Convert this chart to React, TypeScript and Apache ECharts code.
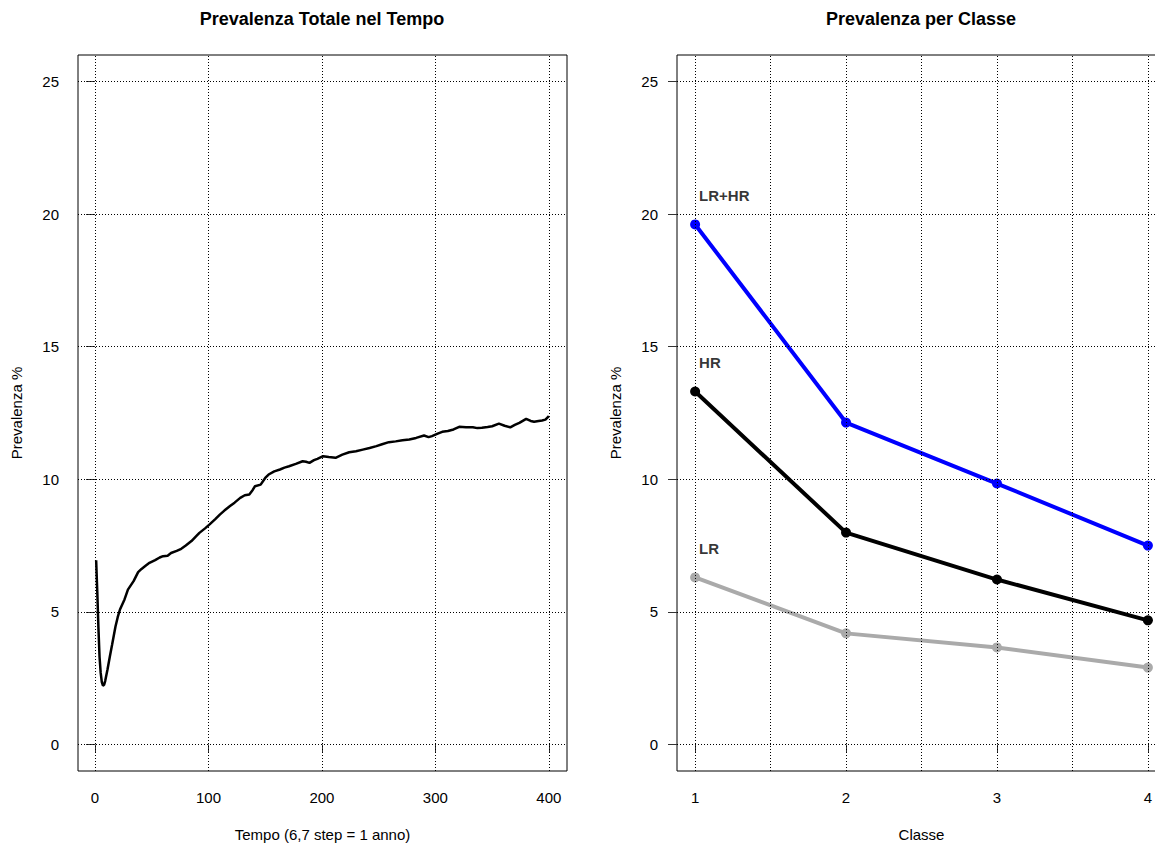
import React, { useEffect, useRef } from "react";
import * as echarts from "echarts";

const FONT = "'Liberation Sans', Arial, sans-serif";

// Left panel: total prevalence over time
const timeSteps = [1, 2, 3, 4, 5, 6, 7, 8, 9, 11, 13, 15, 18, 20, 22, 26, 29, 34, 38, 41, 44, 48, 53, 57, 60, 64, 67, 72, 76, 80, 85, 89, 92, 97, 101, 106, 110, 114, 119, 123, 128, 132, 136, 139, 141, 146, 150, 153, 158, 163, 167, 171, 177, 183, 186, 189, 193, 196, 201, 206, 212, 218, 224, 230, 236, 242, 248, 253, 259, 265, 271, 277, 283, 290, 294, 297, 302, 306, 311, 316, 321, 327, 333, 337, 341, 346, 350, 356, 361, 366, 370, 374, 380, 384, 387, 391, 394, 397, 400];
const totalPrevalence = [6.95, 5.75, 4.4, 3.3, 2.7, 2.35, 2.22, 2.25, 2.4, 2.83, 3.3, 3.75, 4.44, 4.8, 5.09, 5.47, 5.84, 6.16, 6.5, 6.62, 6.72, 6.85, 6.95, 7.05, 7.1, 7.12, 7.22, 7.3, 7.38, 7.5, 7.67, 7.85, 7.98, 8.15, 8.3, 8.5, 8.67, 8.82, 8.99, 9.12, 9.3, 9.4, 9.43, 9.6, 9.74, 9.8, 10.05, 10.18, 10.3, 10.37, 10.44, 10.49, 10.58, 10.68, 10.66, 10.62, 10.72, 10.77, 10.87, 10.84, 10.81, 10.93, 11.02, 11.06, 11.12, 11.18, 11.25, 11.32, 11.4, 11.43, 11.47, 11.5, 11.56, 11.65, 11.59, 11.63, 11.72, 11.79, 11.82, 11.88, 11.98, 11.96, 11.96, 11.93, 11.94, 11.97, 12.0, 12.1, 12.02, 11.96, 12.05, 12.13, 12.28, 12.2, 12.17, 12.2, 12.22, 12.25, 12.38];

// Right panel: prevalence per class
const classes = [1, 2, 3, 4];
const lrhrValues = [19.61, 12.14, 9.84, 7.5];
const hrValues = [13.31, 7.99, 6.22, 4.68];
const lrValues = [6.3, 4.19, 3.66, 2.9];
const seriesNames = ["LR+HR", "HR", "LR"];
const seriesColors = ["#0000FF", "#000000", "#AAAAAA"];

// Axes ticks / grid
const yTicks = [0, 5, 10, 15, 20, 25];
const timeTicks = [0, 100, 200, 300, 400];
const classTicks = [1, 2, 3, 4];
const classGrid = [1, 1.5, 2, 2.5, 3, 3.5, 4];

export default function App() {
  const ref = useRef<HTMLDivElement>(null);
  useEffect(() => {
    if (!ref.current) return;
    const chart = echarts.init(ref.current, null, { renderer: "svg" });

    const gridLineStyle = { type: [1, 2] as any, color: "#000", width: 1 };
    const makeGridSeries = (xIdx: number, xs: number[]) => ({
      type: "line",
      xAxisIndex: xIdx,
      yAxisIndex: xIdx,
      data: [[xs[0], 0]],
      showSymbol: false,
      lineStyle: { width: 0 },
      silent: true,
      z: 1,
      markLine: {
        silent: true,
        symbol: "none",
        label: { show: false },
        lineStyle: gridLineStyle,
        emphasis: { disabled: true },
        data: [
          ...xs.map((v) => ({ xAxis: v })),
          ...yTicks.map((v) => ({ yAxis: v })),
        ],
      },
    });

    const textStyle = { fontFamily: FONT, fontSize: 15, color: "#000" };
    const xAxisCommon = {
      type: "value",
      axisLine: { show: false },
      axisTick: { show: true, length: 8, lineStyle: { color: "#333" } },
      splitLine: { show: false },
      nameLocation: "middle",
      nameTextStyle: textStyle,
    };
    const yAxisCommon = {
      type: "value",
      min: -1,
      max: 26,
      axisLine: { show: false },
      axisTick: { show: true, length: 9, customValues: yTicks, lineStyle: { color: "#333" } },
      axisLabel: { customValues: yTicks, margin: 19, ...textStyle },
      splitLine: { show: false },
      name: "Prevalenza %",
      nameLocation: "middle",
      nameGap: 54,
      nameTextStyle: textStyle,
    };

    const classSeries = [lrValues, hrValues, lrhrValues].map((vals, i) => {
      const idx = 2 - i;
      return {
        type: "line",
        name: seriesNames[idx],
        xAxisIndex: 1,
        yAxisIndex: 1,
        data: classes.map((c, k) => [c, vals[k]]),
        symbol: "circle",
        symbolSize: 10,
        showSymbol: true,
        lineStyle: { color: seriesColors[idx], width: 4 },
        itemStyle: { color: seriesColors[idx] },
        z: 3,
      };
    });
    const firstValues = [lrhrValues[0], hrValues[0], lrValues[0]];

    const gridCommon = {
      top: 55,
      width: 489,
      height: 716,
      show: true,
      borderColor: "#000",
      borderWidth: 1,
      backgroundColor: "transparent",
      containLabel: false,
      outerBoundsMode: "none",
    };

    chart.setOption({
      animation: false,
      backgroundColor: "#fff",
      grid: [
        { ...gridCommon, left: 78 },
        { ...gridCommon, left: 677 },
      ],
      graphic: [
        { type: "text", x: 322, y: 19, style: { text: "Prevalenza Totale nel Tempo", font: `bold 18px ${FONT}`, fill: "#000", textAlign: "center", textVerticalAlign: "middle" } },
        { type: "text", x: 921, y: 19, style: { text: "Prevalenza per Classe", font: `bold 18px ${FONT}`, fill: "#000", textAlign: "center", textVerticalAlign: "middle" } },
      ],
      xAxis: [
        {
          ...xAxisCommon,
          gridIndex: 0,
          min: -15,
          max: 416,
          axisTick: { ...xAxisCommon.axisTick, customValues: timeTicks },
          axisLabel: { customValues: timeTicks, margin: 19, ...textStyle },
          name: "Tempo (6,7 step = 1 anno)",
          nameGap: 56,
        },
        {
          ...xAxisCommon,
          gridIndex: 1,
          min: 0.88,
          max: 4.12,
          axisTick: { ...xAxisCommon.axisTick, customValues: classTicks },
          axisLabel: { customValues: classTicks, margin: 19, ...textStyle },
          name: "Classe",
          nameGap: 56,
        },
      ],
      yAxis: [
        { ...yAxisCommon, gridIndex: 0 },
        { ...yAxisCommon, gridIndex: 1 },
      ],
      series: [
        makeGridSeries(0, timeTicks),
        makeGridSeries(1, classGrid),
        {
          type: "line",
          name: "Totale",
          xAxisIndex: 0,
          yAxisIndex: 0,
          data: timeSteps.map((t, i) => [t, totalPrevalence[i]]),
          showSymbol: false,
          lineStyle: { color: "#000", width: 2.5 },
          z: 3,
        },
        ...classSeries,
        {
          type: "scatter",
          name: "labels",
          xAxisIndex: 1,
          yAxisIndex: 1,
          symbolSize: 0,
          silent: true,
          data: seriesNames.map((n, i) => ({ value: [classes[0], firstValues[i] + 1.1], name: n })),
          label: {
            show: true,
            position: "right",
            distance: 4,
            formatter: (p: any) => p.name,
            fontFamily: FONT,
            fontWeight: "bold",
            fontSize: 15,
            color: "#000",
          },
          z: 4,
        },
      ],
    } as any);
    return () => chart.dispose();
  }, []);
  return (
    <div style={{ position: "absolute", left: 0, top: 0, width: 1155, height: 843, overflow: "hidden" }}>
      <div ref={ref} style={{ width: 1175, height: 843 }} />
    </div>
  );
}
